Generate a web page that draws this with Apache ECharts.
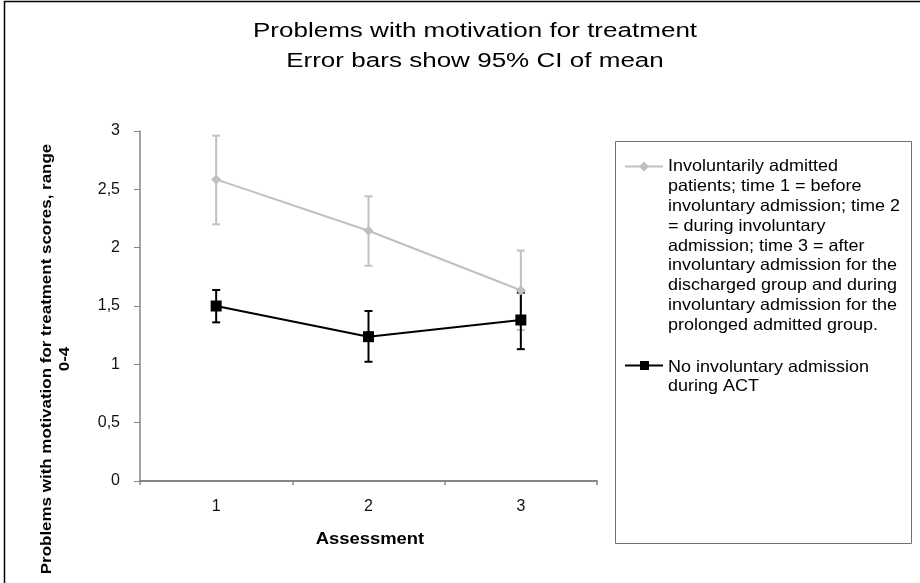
<!DOCTYPE html>
<html>
<head>
<meta charset="utf-8">
<script src="https://cdn.jsdelivr.net/npm/echarts@6/dist/echarts.min.js"></script>
<style>
  html, body { margin: 0; padding: 0; background: #fff; }
  #chart { width: 920px; height: 583px; }
</style>
</head>
<body>
<div id="chart"></div>
<script>
// Assessment points on the x axis
const categories = ['1', '2', '3'];

// Involuntarily admitted patients: mean and 95% CI bounds
const involMean = [2.585, 2.145, 1.635];
const involLow  = [2.20, 1.845, 1.295];
const involHigh = [2.96, 2.44, 1.975];

// No involuntary admission during ACT: mean and 95% CI bounds
const noInvolMean = [1.50, 1.237, 1.38];
const noInvolLow  = [1.36, 1.022, 1.13];
const noInvolHigh = [1.637, 1.457, 1.615];

// Y tick labels (decimal comma)
const yTickLabels = ['0', '0,5', '1', '1,5', '2', '2,5', '3'];

const titleLines = ['Problems with motivation for treatment', 'Error bars show 95% CI of mean'];
const yAxisTitle = 'Problems with motivation for treatment scores, range\n0-4';
const xAxisTitle = 'Assessment';
const seriesNames = [
  'Involuntarily admitted\npatients; time 1 = before\ninvoluntary admission; time 2\n= during involuntary\nadmission; time 3 = after\ninvoluntary admission for the\ndischarged group and during\ninvoluntary admission for the\nprolonged admitted group.',
  'No involuntary admission\nduring ACT'
];

const GREY = '#c0c0c0';
const BLACK = '#000000';
const FONT = 'Liberation Sans, Arial, sans-serif';

function errorBars(name, low, high, color, z) {
  return {
    type: 'custom',
    name: name + ' CI',
    z: z,
    silent: true,
    data: categories.map((c, i) => [i, low[i], high[i]]),
    encode: { x: 0, y: [1, 2] },
    renderItem: function (params, api) {
      const idx = api.value(0);
      const lo = api.coord([idx, api.value(1)]);
      const hi = api.coord([idx, api.value(2)]);
      const w = 4;
      const st = { stroke: color, lineWidth: 2 };
      return {
        type: 'group',
        children: [
          { type: 'line', shape: { x1: lo[0], y1: lo[1], x2: hi[0], y2: hi[1] }, style: st },
          { type: 'line', shape: { x1: hi[0] - w, y1: hi[1], x2: hi[0] + w, y2: hi[1] }, style: st },
          { type: 'line', shape: { x1: lo[0] - w, y1: lo[1], x2: lo[0] + w, y2: lo[1] }, style: st }
        ]
      };
    }
  };
}

const chart = echarts.init(document.getElementById('chart'), null, { renderer: 'canvas' });

chart.setOption({
  animation: false,
  backgroundColor: '#ffffff',
  grid: { left: 140, top: 131, right: 323, bottom: 102, containLabel: false },
  xAxis: {
    type: 'category',
    data: categories,
    boundaryGap: true,
    axisLine: { lineStyle: { color: '#868686', width: 2 } },
    axisTick: { show: true, length: 4, alignWithLabel: false, lineStyle: { color: '#868686', width: 1.5 } },
    axisLabel: { color: '#111', fontSize: 16, fontFamily: FONT, margin: 18 },
    splitLine: { show: false }
  },
  yAxis: {
    type: 'value',
    min: 0, max: 3, interval: 0.5,
    axisLine: { show: true, lineStyle: { color: '#868686', width: 1.5 } },
    axisTick: { show: true, length: 6, lineStyle: { color: '#868686', width: 1 } },
    axisLabel: {
      color: '#111', fontSize: 16, fontFamily: FONT, margin: 20,
      formatter: v => yTickLabels[Math.round(v / 0.5)]
    },
    splitLine: { show: false }
  },
  series: [
    errorBars(seriesNames[0], involLow, involHigh, GREY, 1),
    errorBars(seriesNames[1], noInvolLow, noInvolHigh, BLACK, 2),
    {
      type: 'line', name: seriesNames[1], z: 3,
      data: noInvolMean,
      symbol: 'rect', symbolSize: 11,
      lineStyle: { color: BLACK, width: 2 },
      itemStyle: { color: BLACK }
    },
    {
      type: 'line', name: seriesNames[0], z: 4,
      data: involMean,
      symbol: 'diamond', symbolSize: 10,
      lineStyle: { color: GREY, width: 2 },
      itemStyle: { color: GREY }
    }
  ],
  graphic: [
    // outer frame (top and left edges)
    { type: 'rect', shape: { x: 4.5, y: 1.5, width: 1000, height: 1000 }, style: { fill: null, stroke: '#000', lineWidth: 1.5 }, silent: true },
    // title
    { type: 'text', x: 475, y: 31, scaleX: 1.27, style: { text: titleLines[0], fontSize: 20.5, fontFamily: FONT, fill: '#000', align: 'center', verticalAlign: 'middle' } },
    { type: 'text', x: 475, y: 61, scaleX: 1.27, style: { text: titleLines[1], fontSize: 20.5, fontFamily: FONT, fill: '#000', align: 'center', verticalAlign: 'middle' } },
    // y axis title
    { type: 'text', x: 56, y: 359, rotation: Math.PI / 2, scaleX: 1.13, style: { text: yAxisTitle, fontSize: 15, fontWeight: 'bold', fontFamily: FONT, fill: '#000', align: 'center', verticalAlign: 'middle', lineHeight: 18 } },
    // x axis title
    { type: 'text', x: 370, y: 540, scaleX: 1.15, style: { text: xAxisTitle, fontSize: 16, fontWeight: 'bold', fontFamily: FONT, fill: '#000', align: 'center', verticalAlign: 'middle' } },
    // legend box
    { type: 'rect', shape: { x: 615.5, y: 141.5, width: 296, height: 402 }, style: { fill: '#fff', stroke: '#707070', lineWidth: 1 }, z: 0, silent: true },
    // legend entry 1
    { type: 'line', shape: { x1: 625, y1: 166.5, x2: 663, y2: 166.5 }, style: { stroke: GREY, lineWidth: 2 } },
    { type: 'polygon', shape: { points: [[644, 161.5], [649, 166.5], [644, 171.5], [639, 166.5]] }, style: { fill: GREY } },
    { type: 'text', x: 668, y: 156.5, scaleX: 1.09, style: { text: seriesNames[0], fontSize: 16.5, fontFamily: FONT, fill: '#000', align: 'left', verticalAlign: 'top', lineHeight: 19.9 } },
    // legend entry 2
    { type: 'line', shape: { x1: 625, y1: 365.5, x2: 663, y2: 365.5 }, style: { stroke: BLACK, lineWidth: 2 } },
    { type: 'rect', shape: { x: 640, y: 361, width: 9, height: 9 }, style: { fill: BLACK } },
    { type: 'text', x: 668, y: 357.5, scaleX: 1.09, style: { text: seriesNames[1], fontSize: 16.5, fontFamily: FONT, fill: '#000', align: 'left', verticalAlign: 'top', lineHeight: 19.5 } }
  ]
});
</script>
</body>
</html>
